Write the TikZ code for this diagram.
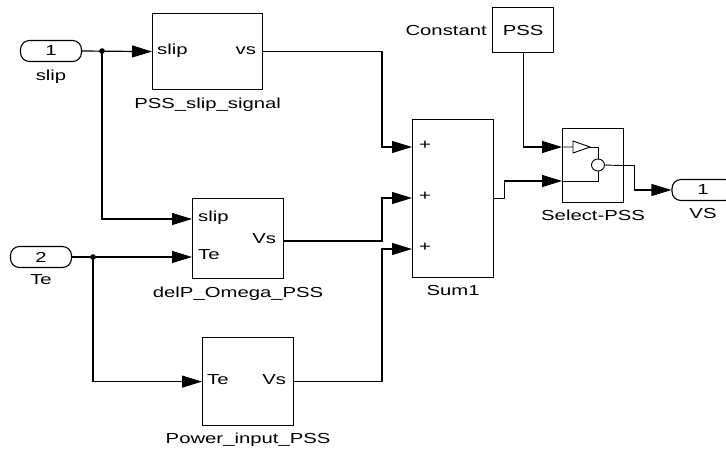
\documentclass[tikz,border=0pt]{standalone}
\usepackage{fontspec}
\setmainfont[FakeStretch=1.4]{Liberation Sans}
\usetikzlibrary{arrows.meta,positioning,calc}
\newcommand\blkfont{\fontsize{14.5}{16}\selectfont}
\tikzset{blk/.style={draw,line width=1.2pt,inner sep=0pt,anchor=north west},
  io/.style={draw,line width=1.1pt,rounded corners=9pt,minimum width=61pt,minimum height=21pt,inner sep=0pt},
  port/.style={inner sep=0pt},
  lbl/.style={inner sep=0pt,anchor=base},
  wire/.style={line width=1.2pt,draw=black},
  arr/.style={wire,-{Triangle[length=20pt,width=12pt]}},
  junc/.style={circle,fill=black,inner sep=2pt}}

\begin{document}
\begin{tikzpicture}[x=1pt,y=-1pt,font=\blkfont]
\useasboundingbox (0,0) rectangle (726,451);
\clip (0,0) rectangle (726,451);
% in/out ports
\node[io] (in1) at (51,51) {1};
\node[lbl] (in1-l) at ($(in1.south)+(0,18)$) {slip};
\node[io] (in2) at (41,257) {2};
\node[lbl] (in2-l) at ($(in2.south)+(0,16)$) {Te};
\node[io,minimum width=62pt] (out1) at (703,190) {1};
\node[lbl] (out1-l) at ($(out1.south)+(0,17)$) {VS};
% subsystems
\node[blk,minimum width=110pt,minimum height=76pt] (slipsig) at (152,13) {};
\node[port,anchor=mid west] (slipsig-i) at ($(slipsig.west)+(5,0)$) {slip};
\node[port,anchor=mid east] (slipsig-o) at ($(slipsig.east)+(-7,0)$) {vs};
\node[lbl] (slipsig-l) at ($(slipsig.south)+(0,18)$) {PSS\_slip\_signal};

\node[blk,minimum width=91pt,minimum height=80pt] (delp) at (192,198) {};
\coordinate (delp-s) at ($(delp.north west)+(0,21)$);
\coordinate (delp-t) at (delp.west |- in2);
\coordinate (delp-o) at ($(delp.north east)+(0,43)$);
\node[port,anchor=mid west] (delp-sl) at ($(delp-s)+(6,0)$) {slip};
\node[port,anchor=mid west] (delp-tl) at ($(delp-t)+(6,0)$) {Te};
\node[port,anchor=mid east] (delp-ol) at ($(delp-o)+(-8,0)$) {Vs};
\node[lbl] (delp-l) at ($(delp.south)+(0,18)$) {delP\_Omega\_PSS};

\node[blk,minimum width=91pt,minimum height=88pt] (pwr) at (202,337) {};
\node[port,anchor=mid west] (pwr-i) at ($(pwr.west)+(5,0)$) {Te};
\node[port,anchor=mid east] (pwr-o) at ($(pwr.east)+(-8,0)$) {Vs};
\node[lbl] (pwr-l) at ($(pwr.south)+(0,17)$) {Power\_input\_PSS};

\node[blk,minimum width=81pt,minimum height=158pt] (sum) at (412,119) {};
\foreach \k/\dy in {1/28,2/79,3/130}{
  \coordinate (s\k) at ($(sum.north west)+(0,\dy)$);
  \node[port,anchor=mid west] (s\k-l) at ($(s\k)+(7,0)$) {+};}
\node[lbl] (sum-l) at ($(sum.south)+(0,17)$) {Sum1};

\node[blk,minimum width=61pt,minimum height=45pt] (cst) at (492,7) {PSS};
\node[lbl,anchor=base east] (cst-l) at ($(cst.base west)+(-5,0)$) {Constant};

\node[blk,minimum width=61pt,minimum height=74pt] (sel) at (562,128) {};
\coordinate (sel-a) at ($(sel.north west)+(0,19)$);
\coordinate (sel-b) at ($(sel.north west)+(0,53)$);
\node[lbl] (sel-l) at ($(sel.south)+(0,17)$) {Select-PSS};
% switch icon
\draw[line width=0.9pt] (sel-a) -- ++(11,0) ($(sel-a)+(11,-6)$) -- ($(sel-a)+(28,0)$) -- ($(sel-a)+(11,6)$) -- cycle;
\draw[line width=0.9pt] ($(sel-a)+(28,0)$) -- ++(8,0) -- ++(0,12);
\draw[line width=0.9pt] ($(sel.north west)+(36,37)$) ellipse [x radius=6.5,y radius=6];
\draw[line width=0.9pt] (sel-b) -- ++(36,0) -- ++(0,-10);
\draw[line width=0.9pt] ($(sel.north west)+(42.5,37)$) -- (sel.east);
% wires
\coordinate (j1) at ($(in1.east)+(20,0)$);
\coordinate (j2) at ($(in2.east)+(21,0)$);
\draw[arr] (in1.east) -- (slipsig.west);
\draw[arr] (j1) |- (delp-s);
\draw[arr] (in2.east) -- (delp-t);
\draw[arr] (j2) |- (pwr.west);
\node[junc] (d1) at (j1) {};
\node[junc] (d2) at (j2) {};
\draw[arr] (slipsig.east) -| ($(s1)+(-30,0)$) -- (s1);
\draw[arr] (delp-o) -| ($(s2)+(-30,0)$) -- (s2);
\draw[arr] (pwr.east) -| ($(s3)+(-30,0)$) -- (s3);
\draw[arr] (sum.east) -- ++(10,0) |- (sel-b);
\draw[arr] (cst.south) |- (sel-a);
\draw[arr] (sel.east) -- ++(10,0) |- (out1.west);
\end{tikzpicture}
\end{document}
